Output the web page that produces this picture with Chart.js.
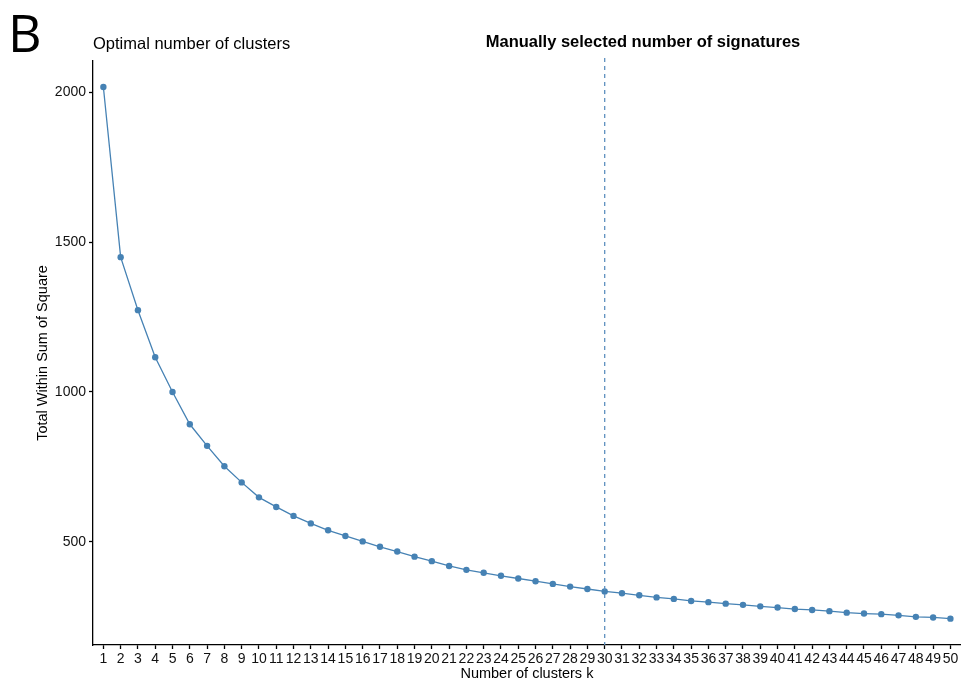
<!DOCTYPE html>
<html>
<head>
<meta charset="utf-8">
<script src="https://cdn.jsdelivr.net/npm/chart.js@4"></script>
<style>
  html, body { margin: 0; padding: 0; background: #fff; }
  #wrap { width: 964px; height: 682px; }
</style>
</head>
<body>
<div id="wrap"><canvas id="elbowChart" width="964" height="682"></canvas></div>
<script>
// Data
const kValues = [1,2,3,4,5,6,7,8,9,10,11,12,13,14,15,16,17,18,19,20,21,22,23,24,25,
  26,27,28,29,30,31,32,33,34,35,36,37,38,39,40,41,42,43,44,45,46,47,48,49,50];
const wss = [2018,1450,1273,1116,1000,892,820,752,698,648,616,586,561,538,519,501,483,467,450,435,
  419,406,396,386,377,368,359,350,342,334,328,321,314,309,302,298,293,289,284,280,
  275,272,268,263,260,258,254,249,247,243];
const yTicks = [500, 1000, 1500, 2000];
const selectedK = 30;

const FONT = "'Liberation Sans', Arial, Helvetica, sans-serif";
const BLUE = "#4682B4";

// textes + ligne pointillÃ©e
const overlay = {
  id: "overlay",
  afterDraw(chart) {
    const ctx = chart.ctx;
    const area = chart.chartArea;
    const x = chart.scales.x;

    // ligne verticale
    const px = x.getPixelForValue(selectedK);
    ctx.save();
    ctx.strokeStyle = "#5f91bf";
    ctx.lineWidth = 1.3;
    ctx.setLineDash([4, 4]);
    ctx.beginPath();
    ctx.moveTo(px, area.top - 3);
    ctx.lineTo(px, area.bottom);
    ctx.stroke();
    ctx.restore();

    ctx.save();
    ctx.fillStyle = "#000";

    ctx.font = "52px 'Open Sans', 'DejaVu Sans', sans-serif";
    ctx.textAlign = "left";
    ctx.textBaseline = "alphabetic";
    ctx.fillText("B", 8, 52);

    ctx.textBaseline = "middle";
    ctx.font = "16.5px " + FONT;
    ctx.fillText("Optimal number of clusters", area.left, 44);

    ctx.font = "bold 16.5px " + FONT;
    ctx.textAlign = "center";
    ctx.fillText("Manually selected number of signatures", 643, 42);

    ctx.font = "14.5px " + FONT;
    ctx.fillText("Number of clusters k", (area.left + area.right) / 2, 674);

    ctx.translate(43, (area.top + area.bottom) / 2);
    ctx.rotate(-Math.PI / 2);
    ctx.fillText("Total Within Sum of Square", 0, 0);
    ctx.restore();
  }
};

new Chart(document.getElementById("elbowChart").getContext("2d"), {
  type: "line",
  data: {
    datasets: [{
      data: kValues.map((k, i) => ({ x: k, y: wss[i] })),
      borderColor: BLUE,
      backgroundColor: BLUE,
      borderWidth: 1.3,
      pointRadius: 3.2,
      pointHoverRadius: 3.2,
      pointBorderWidth: 0,
      tension: 0
    }]
  },
  options: {
    responsive: false,
    animation: false,
    events: [],
    layout: { padding: { left: 0, top: 61, right: 2, bottom: 0 } },
    plugins: { legend: { display: false }, tooltip: { enabled: false } },
    scales: {
      x: {
        type: "linear",
        min: 0.4,
        max: 50.6,
        afterBuildTicks: axis => { axis.ticks = kValues.map(v => ({ value: v })); },
        afterFit: axis => { axis.height = 37; },
        border: { color: "#000", width: 1.3 },
        grid: { display: true, drawOnChartArea: false, drawTicks: true, tickLength: 4, tickColor: "#000", tickWidth: 1.3 },
        ticks: { autoSkip: false, maxRotation: 0, minRotation: 0, padding: 2, color: "#111",
                 callback: v => String(v),
                 font: { family: FONT, size: 14 } }
      },
      y: {
        min: 155,
        max: 2105,
        afterBuildTicks: axis => { axis.ticks = yTicks.map(v => ({ value: v })); },
        afterFit: axis => { axis.width = 93; },
        border: { color: "#000", width: 1.3 },
        grid: { display: true, drawOnChartArea: false, drawTicks: true, tickLength: 4, tickColor: "#000", tickWidth: 1.3 },
        ticks: { padding: 3, color: "#111", callback: v => String(v),
                 font: { family: FONT, size: 14 } }
      }
    }
  },
  plugins: [overlay]
});
</script>
</body>
</html>
